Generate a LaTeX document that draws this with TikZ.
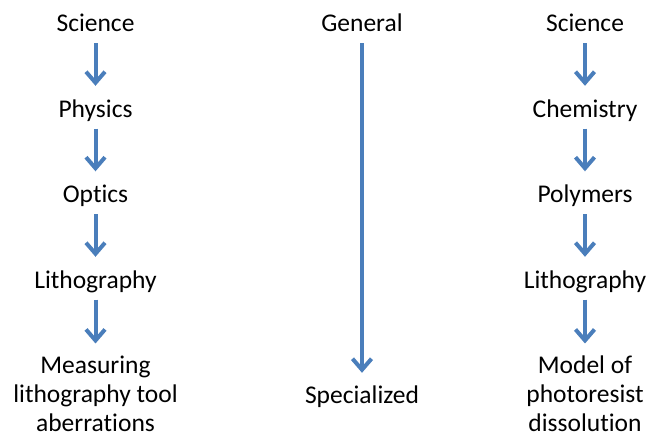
\documentclass[tikz,border=0pt]{standalone}
\usepackage{fontspec}
\setmainfont[Ligatures=NoCommon]{Carlito}
\usetikzlibrary{arrows.meta}
\definecolor{arrowblue}{RGB}{74,126,187}
\tikzset{
  lbl/.style={inner sep=0pt, anchor=base, text height=18pt, text depth=6pt},
  lbls/.style={inner sep=0pt, anchor=north, align=center},
  step arrow/.style={draw=arrowblue, line width=4pt,
    -{Straight Barb[length=11pt,width=19pt]}, shorten <=5pt, shorten >=13.5pt}
}
\begin{document}
\begin{tikzpicture}[x=1pt, y=-1pt, font=\fontsize{25.5pt}{29pt}\selectfont]
                \useasboundingbox (0,0) rectangle (659,435);
                % left column
                \node [lbl] (sciL) at (95.5,32) {Science};
                \node [lbl] (phy) at (95.5,117.5) {Physics};
                \node [lbl] (opt) at (95.5,203) {Optics};
                \node [lbl] (lithL) at (95.5,288.5) {Lithography};
                \node [lbls] (meas) at (95.5,356) {Measuring\\lithography tool\\aberrations};
                % middle
                \node [lbl] (gen) at (362,32) {General};
                \node [lbl] (spec) at (362,404) {Specialized};
                % right column
                \node [lbl] (sciR) at (585,32) {Science};
                \node [lbl] (chem) at (585,117.5) {Chemistry};
                \node [lbl] (poly) at (585,203) {Polymers};
                \node [lbl] (lithR) at (585,288.5) {Lithography};
                \node [lbls] (model) at (585,356) {Model of\\photoresist\\dissolution};
                \draw [step arrow] (sciL) -- (phy);
                \draw [step arrow] (phy) -- (opt);
                \draw [step arrow] (opt) -- (lithL);
                \draw [step arrow, shorten >=12.5pt] (lithL) -- (meas);
                \draw [step arrow, shorten >=13pt] (gen) -- (spec);
                \draw [step arrow] (sciR) -- (chem);
                \draw [step arrow] (chem) -- (poly);
                \draw [step arrow] (poly) -- (lithR);
                \draw [step arrow, shorten >=12.5pt] (lithR) -- (model);
            \end{tikzpicture}
\end{document}
